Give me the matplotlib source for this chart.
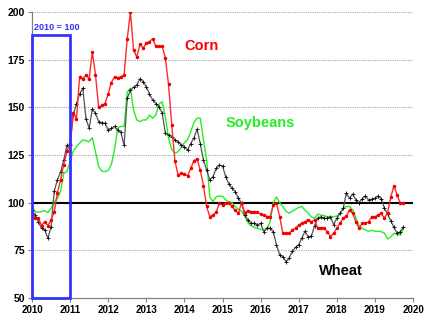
import numpy as np
import matplotlib
matplotlib.use("Agg")
import matplotlib.pyplot as plt
from matplotlib.patches import Rectangle

plt.rcParams['font.family'] = ['Liberation Sans', 'DejaVu Sans']

# monthly price index, Jan 2010 .. Oct 2019 (2010 average = 100)
start_year = 2010
corn = [95, 92, 92, 88, 90, 88, 91, 95, 105, 112, 120, 127,
        131, 147, 144, 166, 165, 167, 165, 179, 167, 150, 151, 152,
        157, 163, 166, 165.5, 166, 167, 186, 200, 180, 176.5, 183, 181,
        183.6, 184.5, 186, 182, 182, 182, 176, 162, 141, 122, 114.5, 115.4,
        115, 114, 118, 122, 123, 117, 109, 98, 92.7, 93.5, 95, 99.7,
        98.8, 99.7, 99.7, 98, 96, 94.4, 100, 94.8, 95.8, 95.3, 95.3, 95,
        94, 93.5, 92.7, 92.7, 98.8, 99.7, 92.7, 84, 84, 84, 85.7, 86.6,
        88.3, 89.2, 90, 91, 90, 91, 86.6, 86.9, 86.6, 84.8, 82.2, 84,
        86.6, 89.2, 91.8, 93, 96.2, 94.4, 90, 86.6, 89.2, 89.2, 90, 92.7,
        92.7, 93.5, 94.4, 91.8, 94.8, 103, 108.8, 104, 99.7, 100]
wheat = [96, 93.5, 90, 86.6, 85.7, 81.3, 87.4, 106, 112, 116, 122.4, 130,
         130, 146, 152, 157, 160, 144, 139, 149, 147, 142.5, 142, 141.6,
         138, 139, 140, 138, 137, 130, 154.7, 159, 160.5, 161.7, 165, 163.5,
         160.8, 157, 153.9, 152, 150.3, 147, 136.4, 135.5, 134.6, 133, 132, 130.3,
         129.4, 127.6, 131, 134, 138.5, 131, 122.4, 117, 112, 113.6, 118, 119.8,
         119.3, 113.6, 110, 107.5, 105.8, 102.3, 99.7, 93.5, 91, 89.2, 89.2, 88.3,
         89.2, 84.8, 86.6, 86.6, 84.8, 77.8, 72.6, 71.7, 69, 71, 74.5, 76.5,
         78, 81.5, 85, 82, 82.5, 88, 92, 92.5, 91.8, 91.8, 92.5, 88.5,
         91.8, 94.4, 97, 104.9, 102.3, 104.5, 101.5, 100, 102, 103.5, 101.4, 101.8,
         102.3, 103.5, 102, 97, 94, 90.5, 87, 84, 84.8, 87.4]
soybeans = [98, 95.3, 95, 95.3, 95.8, 94.8, 97, 100.5, 102.3, 105.8, 115.4, 116.3,
            121.5, 127, 129.4, 131.2, 132.9, 132.5, 132, 134, 126.7, 119, 116.5, 116.3,
            117, 120, 128, 139, 140, 140, 158, 160, 148.6, 143.4, 142.5, 143.4,
            143.4, 146, 144.3, 146, 151.7, 153, 145, 134, 128, 126, 126.7, 129,
            131.5, 133, 137.2, 142, 144.3, 144.3, 133, 122.4, 103, 100.5, 103.1, 103.5,
            103.3, 101.5, 100.5, 100, 98, 96.5, 95.5, 93, 89.5, 88, 87, 86.6,
            86, 85.7, 86.2, 90, 100, 103, 100, 98, 95.5, 94.5, 95.5, 96.5,
            97.5, 98, 96, 94.5, 92.5, 91.8, 94, 93.5, 93.2, 92.7, 92.7, 92.7,
            93, 94.5, 97, 98, 98, 96.2, 92, 88, 86.6, 85.7, 85, 85.5,
            85, 85, 84.8, 84, 81, 82, 84, 83.3, 83, 86.6]

years = list(range(2010, 2021))
y_ticks = [50, 75, 100, 125, 150, 175, 200]
base_level = 100
base_box_top = 188

x = start_year + np.arange(len(corn)) / 12.0

fig = plt.figure(figsize=(4.3, 3.22), dpi=100)
ax = fig.add_axes([0.0744, 0.0745, 0.8861, 0.8882])

for v in y_ticks:
    if v in (50, base_level):
        continue
    ax.axhline(v, color='#a8a8a8', lw=0.8, ls=(0, (1, 1)), zorder=1)
ax.axhline(base_level, color='black', lw=1.5, zorder=2)

ax.plot(x, soybeans, color='#22ee22', lw=1.0, zorder=3)
ax.plot(x, wheat, color='#555555', lw=0.9, marker='+', ms=2.5, mec='black',
        mew=0.6, zorder=4)
ax.plot(x, corn, color='#ff2a2a', lw=1.0, marker='o', ms=1.5, mec='#ee0000',
        mfc='#ee0000', zorder=5)

# base period box
ax.add_patch(Rectangle((start_year, 50), 1, base_box_top - 50, fill=False,
                       ec='#3333ff', lw=2, zorder=6, clip_on=False))
ax.text(start_year + 0.05, base_box_top + 1.5, '2010 = 100', color='#3333ff',
        fontsize=6.5, fontweight='bold', va='bottom', ha='left')

ax.text(2014.45, 182, 'Corn', color='#ff0000', fontsize=10.5,
        fontweight='bold', va='center', ha='center')
ax.text(2016.0, 142, 'Soybeans', color='#22ee22', fontsize=10.5,
        fontweight='bold', va='center', ha='center')
ax.text(2018.1, 64, 'Wheat', color='black', fontsize=10.5,
        fontweight='bold', va='center', ha='center')

ax.set_xlim(years[0], years[-1])
ax.set_ylim(y_ticks[0], y_ticks[-1])
ax.set_xticks(years)
ax.set_yticks(y_ticks)
ax.set_xticklabels([str(y) for y in years], fontsize=7, fontweight='bold')
ax.set_yticklabels([str(v) for v in y_ticks], fontsize=7.5, fontweight='bold')
ax.tick_params(axis='both', length=3, width=0.8, color='#808080', pad=2)

for side in ('top', 'right'):
    ax.spines[side].set_visible(False)
for side in ('left', 'bottom'):
    ax.spines[side].set_color('#808080')
    ax.spines[side].set_linewidth(0.9)

fig.savefig('out.png', dpi=100)
